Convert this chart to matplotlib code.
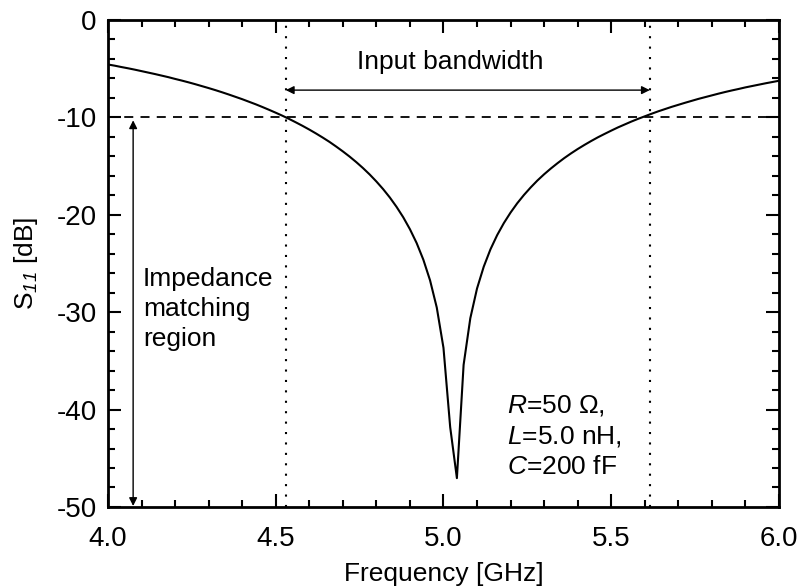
import matplotlib
matplotlib.use('Agg')
import matplotlib.pyplot as plt
from matplotlib.ticker import MultipleLocator, FormatStrFormatter

plt.rcParams['font.family'] = ['Liberation Sans', 'DejaVu Sans']
plt.rcParams['mathtext.fontset'] = 'custom'
plt.rcParams['mathtext.rm'] = 'Liberation Sans'
plt.rcParams['mathtext.it'] = 'Liberation Sans:italic'
# italic digits for the subscript (mathit falls back to upright for digits)
plt.rcParams['mathtext.sf'] = 'Liberation Sans:italic'
plt.rcParams['axes.unicode_minus'] = False

# frequency grid [GHz] and S11 [dB]
freq = [4.00, 4.02, 4.04, 4.06, 4.08, 4.10, 4.12, 4.14, 4.16, 4.18,
        4.20, 4.22, 4.24, 4.26, 4.28, 4.30, 4.32, 4.34, 4.36, 4.38,
        4.40, 4.42, 4.44, 4.46, 4.48, 4.50, 4.52, 4.54, 4.56, 4.58,
        4.60, 4.62, 4.64, 4.66, 4.68, 4.70, 4.72, 4.74, 4.76, 4.78,
        4.80, 4.82, 4.84, 4.86, 4.88, 4.90, 4.92, 4.94, 4.96, 4.98,
        5.00, 5.02, 5.04, 5.06, 5.08, 5.10, 5.12, 5.14, 5.16, 5.18,
        5.20, 5.22, 5.24, 5.26, 5.28, 5.30, 5.32, 5.34, 5.36, 5.38,
        5.40, 5.42, 5.44, 5.46, 5.48, 5.50, 5.52, 5.54, 5.56, 5.58,
        5.60, 5.62, 5.64, 5.66, 5.68, 5.70, 5.72, 5.74, 5.76, 5.78,
        5.80, 5.82, 5.84, 5.86, 5.88, 5.90, 5.92, 5.94, 5.96, 5.98,
        6.00]
s11 = [-4.57, -4.69, -4.83, -4.96, -5.10, -5.25, -5.40, -5.55, -5.71, -5.87,
       -6.05, -6.22, -6.40, -6.59, -6.79, -6.99, -7.20, -7.42, -7.65, -7.89,
       -8.13, -8.39, -8.65, -8.93, -9.22, -9.52, -9.83, -10.16, -10.51, -10.87,
       -11.25, -11.65, -12.07, -12.51, -12.99, -13.49, -14.02, -14.59, -15.20, -15.86,
       -16.58, -17.36, -18.22, -19.18, -20.25, -21.48, -22.90, -24.61, -26.73, -29.52,
       -33.66, -41.80, -47.04, -35.41, -30.62, -27.57, -25.33, -23.55, -22.09, -20.85,
       -19.77, -18.81, -17.96, -17.19, -16.48, -15.84, -15.25, -14.70, -14.18, -13.70,
       -13.25, -12.83, -12.43, -12.05, -11.70, -11.36, -11.03, -10.73, -10.43, -10.15,
       -9.89, -9.63, -9.38, -9.15, -8.92, -8.71, -8.50, -8.30, -8.10, -7.92,
       -7.74, -7.56, -7.39, -7.23, -7.08, -6.92, -6.78, -6.64, -6.50, -6.37,
       -6.24]

threshold = -10
band_edges = [4.53, 5.615]

fig = plt.figure(figsize=(8.01, 5.88), dpi=100)
ax = fig.add_axes([0.1348, 0.1378, 0.8377, 0.8282])

ax.plot(freq, s11, color='black', lw=1.5)
ax.axhline(threshold, color='black', lw=1.3, ls=(0, (5, 4)))
for f in band_edges:
    ax.axvline(f, color='black', lw=1.5, ls=(0, (1, 4)))

# bandwidth arrow
ax.annotate('', xy=(band_edges[0], -7.2), xytext=(band_edges[1], -7.2),
            arrowprops=dict(arrowstyle='<|-|>', color='black', lw=1.0,
                            mutation_scale=12, shrinkA=0, shrinkB=0))
ax.text(5.02, -4.3, 'Input bandwidth', fontsize=19, ha='center', va='center')

# matching region arrow
ax.annotate('', xy=(4.075, -10.3), xytext=(4.075, -49.9),
            arrowprops=dict(arrowstyle='<|-|>', color='black', lw=1.0,
                            mutation_scale=12, shrinkA=0, shrinkB=0))
ax.text(4.104, -29.7, 'Impedance\nmatching\nregion', fontsize=19,
        ha='left', va='center', linespacing=1.32)

ax.text(5.19, -42.7, '$R$=50 Ω,\n$L$=5.0 nH,\n$C$=200 fF', fontsize=19,
        ha='left', va='center', linespacing=1.32)

ax.set_xlim(4.0, 6.0)
ax.set_ylim(-50, 0)
ax.xaxis.set_major_locator(MultipleLocator(0.5))
ax.xaxis.set_minor_locator(MultipleLocator(0.1))
ax.yaxis.set_major_locator(MultipleLocator(10))
ax.yaxis.set_minor_locator(MultipleLocator(2))
ax.xaxis.set_major_formatter(FormatStrFormatter('%.1f'))
ax.tick_params(which='both', direction='in', top=True, right=True,
               labelsize=20, width=1.5)
ax.tick_params(which='major', length=9.5, pad=8)
ax.tick_params(which='minor', length=5)
ax.tick_params(axis='x', which='major', pad=14)
for sp in ax.spines.values():
    sp.set_linewidth(2.0)

ax.set_xlabel('Frequency [GHz]', fontsize=19, labelpad=7)
ax.set_ylabel(r'S$_{\mathsf{11}}$ [dB]', fontsize=19, labelpad=12)

fig.savefig('out.png', dpi=100)
